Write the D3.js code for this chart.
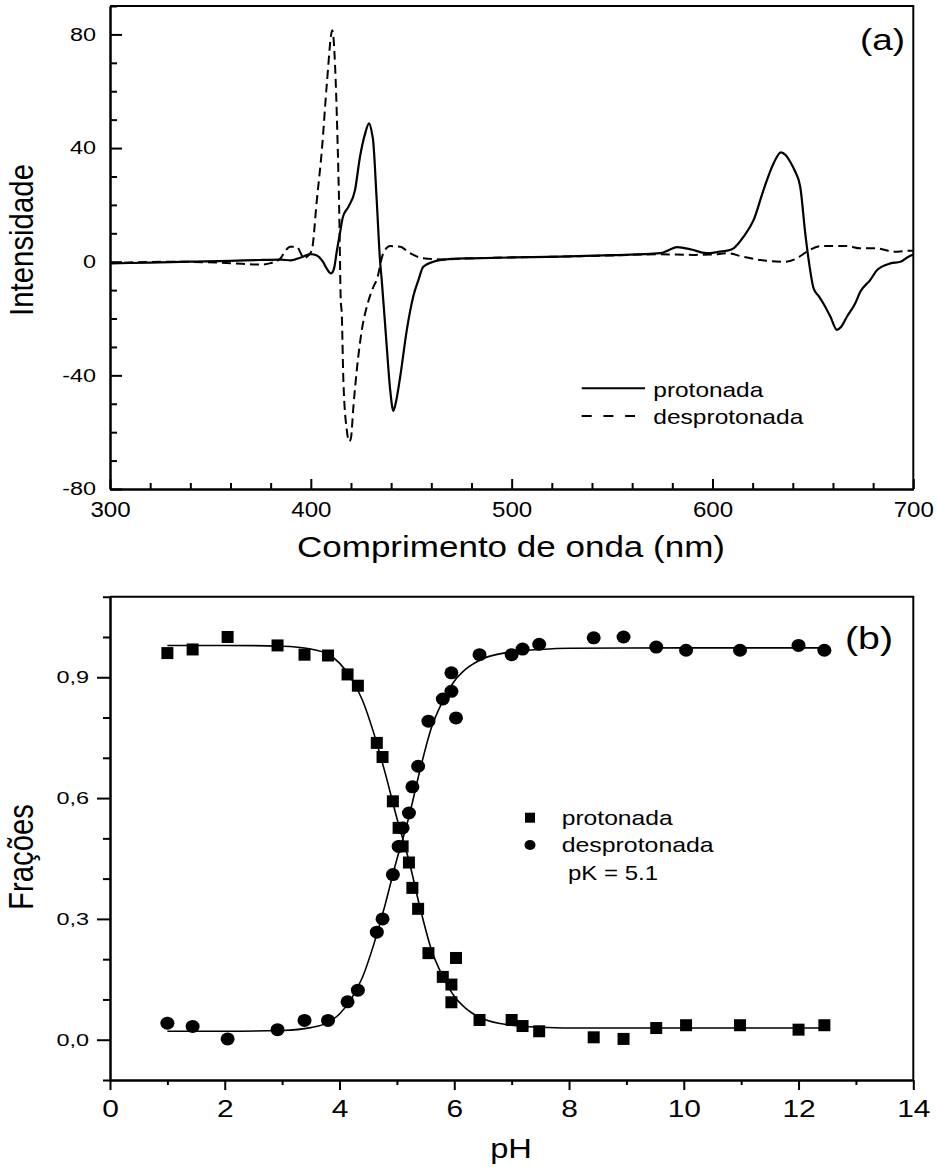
<!DOCTYPE html>
<html><head><meta charset="utf-8">
<script src="https://cdn.jsdelivr.net/npm/d3@7"></script>
<style>
body{margin:0;background:#fff}
text{font-family:"Liberation Sans",Arial,Helvetica,sans-serif;fill:#000}
</style>
</head><body>
<svg id="c" width="938" height="1167"></svg>
<script>
// ---------- Panel (a) data ----------
const wavelengthProt = [300,320,340,360,375,385,390,395,400,403,406,408,410,411.5,413,414.5,416,418.7,422,424.5,427,429,430.5,431,432.8,434.5,435.3,437.8,439.5,441.1,442.5,444.5,447.8,451.1,453.6,456,461,470,480,500,524,550,574,578,582.3,586,590.6,595,599,603,607.2,610.5,613,615.5,620.5,625.4,630.4,634.1,636.5,638.7,641,643.7,646.2,647.9,650.4,653,655.3,658.7,662,664,667,671.1,673.6,678.6,682,688.6,693.6,697,700];
const intensityProt = [-0.6,-0.3,0,0.3,0.6,0.7,0.5,1.5,2.7,2.2,0,-2.5,-4.1,-2.5,4,10,15.8,19.3,25.2,37,45,48.7,45,42.8,21.7,0,-6.4,-29.9,-45,-52.5,-49,-40.5,-24,-12,-6.4,-1.8,0,1,1.2,1.5,1.8,2.3,3,4,5.1,4.8,4.1,3.2,3,3.5,3.9,4.7,6.5,8.8,14.7,25.2,34.6,38.5,37.5,35.2,32,26.4,10,0.6,-9.5,-12.2,-14.8,-19.3,-24,-23,-19.3,-14.6,-10.6,-6.4,-2.9,-0.6,0,1.5,2.5];
const wavelengthDesp = [300,330,360,375,380,384.7,387,389.7,393,395,396.3,398.5,400.5,403,405.5,408,410.7,412.1,413.2,414.2,414.9,415.4,416.2,417.9,419.2,420,421.2,422.9,425.4,427.9,431.2,432.8,436.1,439.5,444.5,449.4,456,466,480,500,524,550,574,590,600,607,615,623.8,636.2,642,647,653.7,660.3,667,673.6,681.9,690.2,699.4,700];
const intensityDesp = [-0.5,0,-0.5,-1,-0.5,1,3.5,5.3,5.3,3,1.2,2,4.1,21.7,39.3,62.8,81.5,68.6,45.2,15.8,-13.5,-18.2,-41.6,-59.2,-63.3,-62,-51,-38.1,-24,-15.8,-8.8,-6.4,3,5.5,5.3,3,1.2,0.8,1.2,1.5,1.8,2.2,2.6,2.4,2.5,3,1.8,0.6,0,1.2,3.5,5.5,5.5,5.5,4.7,4.7,3.5,3.9,3.9];
const seriesNamesA = ["protonada","desprotonada"];
const xTicksA = [300,400,500,600,700];
const yTicksA = [-80,-40,0,40,80];

// ---------- Panel (b) data ----------
const pH = [1.00,1.44,2.05,2.92,3.39,3.80,4.14,4.32,4.65,4.75,4.93,5.03,5.10,5.21,5.27,5.37,5.55,5.80,5.95,5.95,6.03,6.44,7.00,7.19,7.48,8.43,8.95,9.52,10.04,10.98,12.00,12.45];
const fracProt = [0.960,0.969,1.000,0.979,0.956,0.954,0.907,0.879,0.737,0.702,0.592,0.526,0.480,0.440,0.377,0.325,0.215,0.156,0.137,0.093,0.203,0.049,0.049,0.034,0.021,0.006,0.002,0.029,0.036,0.036,0.025,0.036];
const fracDesp = [0.041,0.033,0.002,0.025,0.048,0.048,0.094,0.123,0.267,0.300,0.410,0.480,0.526,0.563,0.628,0.679,0.791,0.846,0.865,0.911,0.799,0.956,0.956,0.970,0.982,0.998,1.000,0.975,0.967,0.967,0.979,0.967];
const fitPH   = [1,2,3,3.5,3.8,4.0,4.2,4.4,4.6,4.8,5.0,5.1,5.2,5.4,5.6,5.8,6.0,6.2,6.5,7.0,7.5,8,10,12.45];
const fitProt = [0.979,0.979,0.977,0.970,0.957,0.935,0.898,0.843,0.760,0.660,0.550,0.500,0.450,0.330,0.224,0.157,0.108,0.078,0.052,0.036,0.031,0.029,0.029,0.029];
const fitDesp = [0.021,0.021,0.023,0.030,0.043,0.064,0.100,0.155,0.238,0.338,0.448,0.497,0.548,0.668,0.774,0.841,0.890,0.920,0.946,0.963,0.969,0.972,0.973,0.973];
const xTicksB = [0,2,4,6,8,10,12,14];
const yTicksB = [0,0.3,0.6,0.9];
const yTickLabelsB = ["0,0","0,3","0,6","0,9"];
const pKLabel = "pK = 5.1";

// ---------- helpers ----------
const svg = d3.select("#c");
svg.append("rect").attr("width",938).attr("height",1167).attr("fill","#fff");
function fitWidth(sel, w){ sel.attr("textLength", w).attr("lengthAdjust","spacingAndGlyphs"); }
function stretch(sel, k){
  sel.each(function(){ const l=this.getComputedTextLength(); this.setAttribute("textLength", l*k); this.setAttribute("lengthAdjust","spacingAndGlyphs"); });
}
function styleAxis(g){
  g.selectAll("path.domain").attr("stroke","#000").attr("stroke-width",2);
  g.selectAll(".tick line").attr("stroke","#000").attr("stroke-width",2);
}

// ================= PANEL (a) =================
const A = {l:110, r:913.3, t:6, b:489};
const xA = d3.scaleLinear().domain([300,700]).range([A.l,A.r]);
const yA = d3.scaleLinear().domain([-80,90]).range([A.b,A.t]);

svg.append("path").attr("d",`M${A.l},${A.t}H${A.r}V${A.b}`).attr("fill","none").attr("stroke","#000").attr("stroke-width",2);

const gAxm = svg.append("g").attr("transform",`translate(0,${A.b})`)
  .call(d3.axisBottom(xA).tickValues(d3.range(300,701,20).filter(v=>v%100!==0)).tickSizeInner(-6).tickSizeOuter(0).tickFormat(""));
styleAxis(gAxm);
const gAym = svg.append("g").attr("transform",`translate(${A.l},0)`)
  .call(d3.axisLeft(yA).tickValues(d3.range(-80,91,10).filter(v=>v%40!==0)).tickSizeInner(-7).tickSizeOuter(0).tickFormat(""));
styleAxis(gAym);
const gAx = svg.append("g").attr("transform",`translate(0,${A.b})`)
  .call(d3.axisBottom(xA).tickValues(xTicksA).tickSizeInner(-10).tickSizeOuter(0).tickPadding(12.5).tickFormat(d=>String(d)));
styleAxis(gAx);
gAx.selectAll("text").attr("font-size",21.5).attr("font-family",null);
stretch(gAx.selectAll("text"),1.12);
const gAy = svg.append("g").attr("transform",`translate(${A.l},0)`)
  .call(d3.axisLeft(yA).tickValues(yTicksA).tickSizeInner(-12).tickSizeOuter(0).tickPadding(14).tickFormat(d=>String(d)));
styleAxis(gAy);
gAy.selectAll("text").attr("font-size",18).attr("font-family",null);
stretch(gAy.selectAll("text"),1.3);

const lineA = d3.line().x(d=>xA(d[0])).y(d=>yA(d[1])).curve(d3.curveMonotoneX);
svg.append("path").datum(wavelengthDesp.map((w,i)=>[w,intensityDesp[i]]))
  .attr("d",lineA).attr("fill","none").attr("stroke","#000").attr("stroke-width",2).attr("stroke-dasharray","9,5");
svg.append("path").datum(wavelengthProt.map((w,i)=>[w,intensityProt[i]]))
  .attr("d",lineA).attr("fill","none").attr("stroke","#000").attr("stroke-width",2.2);

svg.append("line").attr("x1",581.7).attr("x2",645).attr("y1",388.3).attr("y2",388.3).attr("stroke","#000").attr("stroke-width",2);
svg.append("line").attr("x1",581.7).attr("x2",635).attr("y1",416).attr("y2",416).attr("stroke","#000").attr("stroke-width",2).attr("stroke-dasharray","10,11.7");
fitWidth(svg.append("text").attr("x",653.3).attr("y",396.7).attr("font-size",21).text(seriesNamesA[0]),110);
fitWidth(svg.append("text").attr("x",653.3).attr("y",424).attr("font-size",21).text(seriesNamesA[1]),150);

fitWidth(svg.append("text").attr("x",860).attr("y",50).attr("font-size",30).text("(a)"),45);

fitWidth(svg.append("text").attr("x",511).attr("y",557).attr("text-anchor","middle").attr("font-size",29).text("Comprimento de onda (nm)"),428);
svg.append("text").attr("transform","translate(33,240) scale(1.12,1) rotate(-90)").attr("text-anchor","middle").attr("font-size",29.4).text("Intensidade");

// ================= PANEL (b) =================
const B = {l:110, r:913.3, t:596.7, b:1080};
const xB = d3.scaleLinear().domain([0,14]).range([B.l,B.r]);
const yB = d3.scaleLinear().domain([-0.1,1.1]).range([B.b,B.t]);

svg.append("path").attr("d",`M${B.l},${B.t}H${B.r}V${B.b}`).attr("fill","none").attr("stroke","#000").attr("stroke-width",2);

const gBxm = svg.append("g").attr("transform",`translate(0,${B.b})`)
  .call(d3.axisBottom(xB).tickValues(d3.range(1,14,2)).tickSizeInner(5).tickSizeOuter(0).tickFormat(""));
styleAxis(gBxm);
const gBym = svg.append("g").attr("transform",`translate(${B.l},0)`)
  .call(d3.axisLeft(yB).tickValues([0.1,0.2,0.4,0.5,0.7,0.8,1.0]).tickSizeInner(7).tickSizeOuter(7).tickFormat(""));
styleAxis(gBym);
const gBx = svg.append("g").attr("transform",`translate(0,${B.b})`)
  .call(d3.axisBottom(xB).tickValues(xTicksB).tickSizeInner(10).tickSizeOuter(0).tickPadding(11).tickFormat(d=>String(d)));
styleAxis(gBx);
gBx.selectAll("text").attr("font-size",23).attr("font-family",null);
stretch(gBx.selectAll("text"),1.3);
const gBy = svg.append("g").attr("transform",`translate(${B.l},0)`)
  .call(d3.axisLeft(yB).tickValues(yTicksB).tickSizeInner(13).tickSizeOuter(0).tickPadding(8)
        .tickFormat((d,i)=>yTickLabelsB[i]));
styleAxis(gBy);
gBy.selectAll("text").attr("font-size",17).attr("font-family",null);
stretch(gBy.selectAll("text"),1.38);

const lineB = d3.line().x(d=>xB(d[0])).y(d=>yB(d[1])).curve(d3.curveMonotoneX);
svg.append("path").datum(fitPH.map((p,i)=>[p,fitProt[i]])).attr("d",lineB).attr("fill","none").attr("stroke","#000").attr("stroke-width",1.6);
svg.append("path").datum(fitPH.map((p,i)=>[p,fitDesp[i]])).attr("d",lineB).attr("fill","none").attr("stroke","#000").attr("stroke-width",1.6);

const sq = 12;
svg.append("g").selectAll("rect").data(pH.map((p,i)=>[p,fracProt[i]])).join("rect")
  .attr("x",d=>xB(d[0])-sq/2).attr("y",d=>yB(d[1])-sq/2).attr("width",sq).attr("height",sq).attr("fill","#000");
svg.append("g").selectAll("ellipse").data(pH.map((p,i)=>[p,fracDesp[i]])).join("ellipse")
  .attr("cx",d=>xB(d[0])).attr("cy",d=>yB(d[1])).attr("rx",7).attr("ry",6.5).attr("fill","#000");

svg.append("rect").attr("x",525).attr("y",812.7).attr("width",10).attr("height",10).attr("fill","#000");
svg.append("ellipse").attr("cx",530).attr("cy",845).attr("rx",5.5).attr("ry",5).attr("fill","#000");
fitWidth(svg.append("text").attr("x",561.7).attr("y",825).attr("font-size",21).text(seriesNamesA[0]),111);
fitWidth(svg.append("text").attr("x",561.7).attr("y",851.7).attr("font-size",21).text(seriesNamesA[1]),152);
fitWidth(svg.append("text").attr("x",568).attr("y",880).attr("font-size",21).text(pKLabel),90);

fitWidth(svg.append("text").attr("x",845).attr("y",649).attr("font-size",31).text("(b)"),48);

fitWidth(svg.append("text").attr("x",511).attr("y",1158).attr("text-anchor","middle").attr("font-size",28).text("pH"),41.7);
svg.append("text").attr("transform","translate(33,857) scale(1.2,1) rotate(-90)").attr("text-anchor","middle").attr("font-size",29.3).text("Frações");
</script>
</body></html>
